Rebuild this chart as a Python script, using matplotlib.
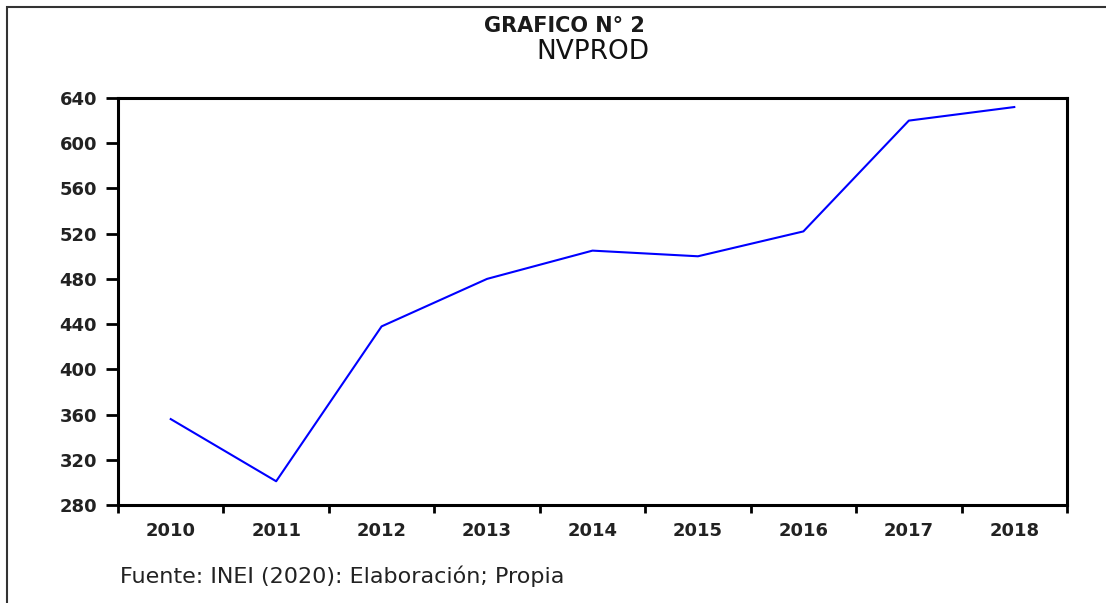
import matplotlib.pyplot as plt
from matplotlib.patches import Rectangle
import numpy as np

# datos
anios = ['2010', '2011', '2012', '2013', '2014', '2015', '2016', '2017', '2018']
nvprod = [356, 301, 438, 480, 505, 500, 522, 620, 632]
y_ticks = [280, 320, 360, 400, 440, 480, 520, 560, 600, 640]

fig = plt.figure(figsize=(11.06, 6.03), dpi=100)
ax = fig.add_axes([118/1106, 1 - 505/603, (1067-118)/1106, (505-98)/603])

x = np.arange(len(anios))
ax.plot(x, nvprod, color='#0000ff', linewidth=1.5)

ax.set_xlim(-0.5, len(anios) - 0.5)
ax.set_ylim(280, 640)
ax.set_yticks(y_ticks)
ax.set_yticklabels([str(v) for v in y_ticks])

# etiquetas centradas, marcas entre categorias (estilo EViews)
ax.set_xticks(x)
ax.set_xticklabels(anios)
ax.set_xticks(np.arange(-0.5, len(anios)), minor=True)
ax.tick_params(axis='x', which='major', length=0, pad=12)
ax.tick_params(axis='x', which='minor', length=6, width=2, direction='out')
ax.tick_params(axis='y', length=9, width=2, direction='out', pad=6)

for lbl in ax.get_xticklabels() + ax.get_yticklabels():
    lbl.set_fontsize(13)
    lbl.set_fontweight('bold')
    lbl.set_color('#222222')

for s in ax.spines.values():
    s.set_linewidth(2.2)

# titulos
fig.text(564/1106, 1 - 26/603, 'GRAFICO N° 2', ha='center', va='center',
         fontsize=15, fontweight='bold', color='#1a1a1a')
fig.text(593/1106, 1 - 52/603, 'NVPROD', ha='center', va='center',
         fontsize=19, color='#111111')

# fuente
fig.text(120/1106, 1 - 576/603, 'Fuente: INEI (2020): Elaboración; Propia',
         ha='left', va='center', fontsize=16, color='#222222')

# marco exterior
fig.patches.append(Rectangle((7/1106, -0.05), 1.2, 1 - 7/603 + 0.05,
                             transform=fig.transFigure, fill=False,
                             edgecolor='#333333', linewidth=1.5))

fig.savefig('out.png', dpi=100)
